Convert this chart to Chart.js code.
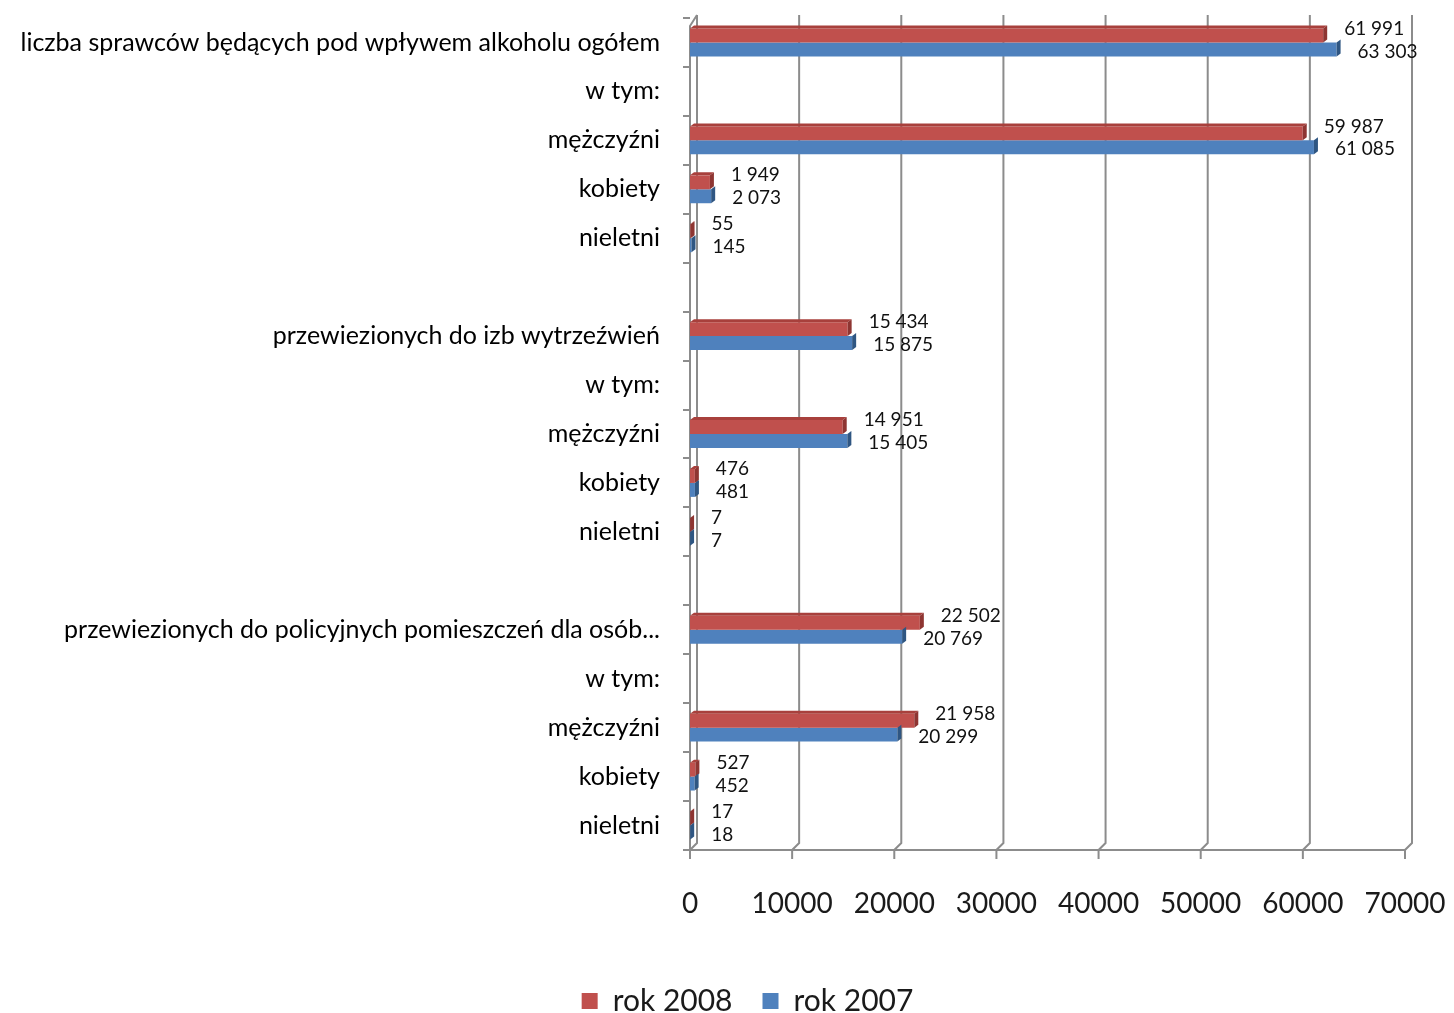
<!DOCTYPE html>
<html>
<head>
<meta charset="utf-8">
<script src="https://cdn.jsdelivr.net/npm/chart.js@4"></script>
<style>
  html, body { margin: 0; padding: 0; background: #fff; }
  #wrap { width: 1454px; height: 1013px; }
</style>
</head>
<body>
<div id="wrap"><canvas id="barCanvas"></canvas></div>
<script>
const categories = [
    "liczba sprawców będących pod wpływem alkoholu ogółem",
    "w tym:",
    "mężczyźni",
    "kobiety",
    "nieletni",
    "",
    "przewiezionych do izb wytrzeźwień",
    "w tym:",
    "mężczyźni",
    "kobiety",
    "nieletni",
    "",
    "przewiezionych do policyjnych pomieszczeń dla osób...",
    "w tym:",
    "mężczyźni",
    "kobiety",
    "nieletni"
];
const rok2008 = [61991, null, 59987, 1949, 55, null, 15434, null, 14951, 476, 7, null, 22502, null, 21958, 527, 17];
const rok2007 = [63303, null, 61085, 2073, 145, null, 15875, null, 15405, 481, 7, null, 20769, null, 20299, 452, 18];
const xTicks = [0, 10000, 20000, 30000, 40000, 50000, 60000, 70000];

const FONT = "Lato";
const barCanvas = document.getElementById("barCanvas");

function fmt(v) {
    return String(v).replace(/\B(?=(\d{3})+(?!\d))/g, " ");
}

// back wall + floor like the excel 3d chart
const wallPlugin = {
    id: "wall",
    afterLayout(chart) {
        // legend sits a bit right of centre in the original
        chart.legend.left += 45;
        chart.legend.right += 45;
    },
    beforeDatasetsDraw(chart) {
        const ctx = chart.ctx;
        const a = chart.chartArea;
        const xs = chart.scales.x;
        const d = 7;
        ctx.save();
        ctx.strokeStyle = "#8c8c8c";
        ctx.lineWidth = 2;
        // floor
        ctx.beginPath();
        ctx.moveTo(a.left, a.bottom);
        ctx.lineTo(xs.getPixelForValue(70000), a.bottom);
        ctx.stroke();
        xTicks.forEach(v => {
            const px = xs.getPixelForValue(v);
            ctx.beginPath();
            ctx.moveTo(px, a.bottom + 9);
            ctx.lineTo(px, a.bottom);
            ctx.lineTo(px + d, a.bottom - d);
            ctx.lineTo(px + d, a.top - 3);
            ctx.stroke();
        });
        // left wall front edge
        ctx.beginPath();
        ctx.moveTo(a.left, a.bottom);
        ctx.lineTo(a.left, a.top + 8);
        ctx.lineTo(a.left + d, a.top - 3);
        ctx.stroke();
        ctx.restore();
    },
    afterDatasetsDraw(chart) {
        const ctx = chart.ctx;
        const dark = ["#8e3532", "#2f5682"];
        const top = ["#a8403c", "#3f6ea6"];
        ctx.save();
        chart.data.datasets.forEach((ds, i) => {
            const meta = chart.getDatasetMeta(i);
            meta.data.forEach((bar, j) => {
                const v = ds.data[j];
                if (v === null) return;
                const t = bar.y - bar.height / 2;
                const b = bar.y + bar.height / 2;
                const dx = 4, dy = 3;
                if (i === 0) {
                    ctx.fillStyle = top[i];
                    ctx.beginPath();
                    ctx.moveTo(bar.base, t);
                    ctx.lineTo(bar.base + dx, t - dy);
                    ctx.lineTo(bar.x + dx, t - dy);
                    ctx.lineTo(bar.x, t);
                    ctx.closePath();
                    ctx.fill();
                }
                ctx.fillStyle = dark[i];
                ctx.beginPath();
                ctx.moveTo(bar.x, t);
                ctx.lineTo(bar.x + dx, t - dy);
                ctx.lineTo(bar.x + dx, b - dy);
                ctx.lineTo(bar.x, b);
                ctx.closePath();
                ctx.fill();

                // value label
                ctx.fillStyle = "#111";
                ctx.font = "19px " + FONT;
                ctx.textAlign = "left";
                ctx.textBaseline = "middle";
                const ly = i === 0 ? bar.y - 7 : bar.y + 2;
                ctx.fillText(fmt(v), bar.x + 21, ly);
            });
        });
        ctx.restore();
    }
};

const barChart = new Chart(barCanvas, {
    type: "bar",
    data: {
        labels: categories,
        datasets: [
            {
                label: "rok 2008",
                data: rok2008,
                backgroundColor: "#c0504d",
                categoryPercentage: 0.57,
                barPercentage: 1.0
            },
            {
                label: "rok 2007",
                data: rok2007,
                backgroundColor: "#4f81bd",
                categoryPercentage: 0.57,
                barPercentage: 1.0
            }
        ]
    },
    options: {
        indexAxis: "y",
        responsive: true,
        maintainAspectRatio: false,
        animation: false,
        layout: { padding: { top: 18, right: 49, bottom: -13, left: 0 } },
        scales: {
            x: {
                min: 0,
                max: 70000,
                afterBuildTicks: s => { s.ticks = xTicks.map(v => ({ value: v })); },
                afterFit: s => {
                    s.height = 106;
                    s.paddingLeft = 0;
                    s.paddingRight = 0;
                },
                grid: { display: false },
                border: { display: false },
                ticks: {
                    padding: 29,
                    color: "#1a1a1a",
                    font: { family: FONT, size: 28 },
                    maxRotation: 0,
                    callback: v => String(v)
                }
            },
            y: {
                afterFit: s => {
                    s.width = 690;
                    s.paddingTop = 0;
                    s.paddingBottom = 0;
                },
                grid: {
                    drawOnChartArea: false,
                    drawTicks: true,
                    tickLength: 7,
                    offset: true,
                    color: "#8c8c8c",
                    lineWidth: 2
                },
                border: { display: false },
                ticks: {
                    padding: 23,
                    color: "#000",
                    autoSkip: false,
                    font: { family: FONT, size: 25 }
                }
            }
        },
        plugins: {
            legend: {
                position: "bottom",
                labels: {
                    boxWidth: 16,
                    boxHeight: 16,
                    padding: 30,
                    color: "#1a1a1a",
                    font: { family: FONT, size: 30 }
                }
            },
            tooltip: { enabled: false }
        }
    },
    plugins: [wallPlugin]
});
</script>
</body>
</html>
